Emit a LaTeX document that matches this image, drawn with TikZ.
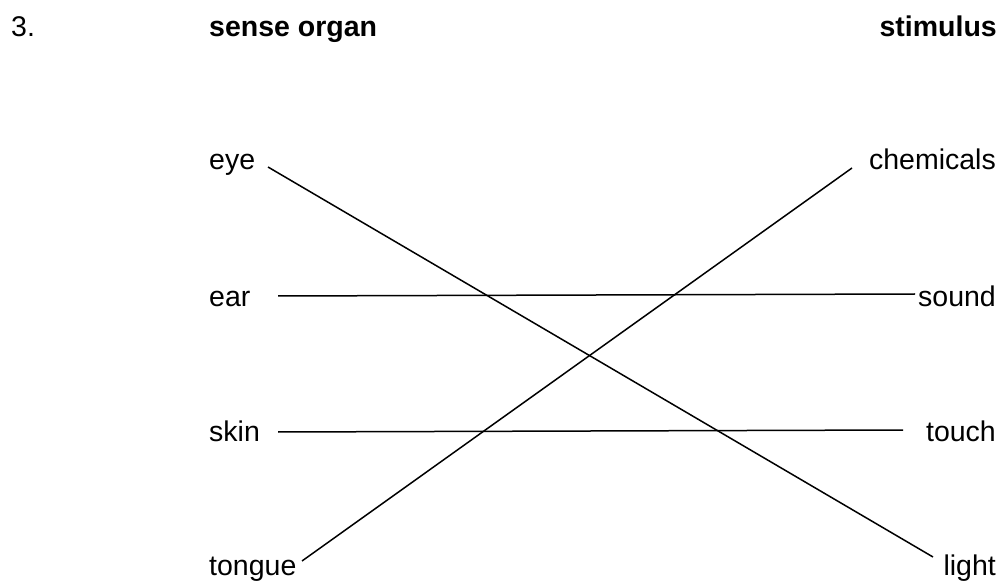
\documentclass[tikz,border=0pt]{standalone}
\usepackage{fontspec}
\setmainfont{Liberation Sans}
\usepackage{tikz}

\begin{document}
\begin{tikzpicture}[
    x=1pt, y=-1pt,
    lbl/.style={inner sep=0pt, font=\fontsize{28.5}{34}\selectfont},
    head/.style={lbl, font=\fontsize{28.5}{34}\selectfont\bfseries},
    link/.style={line width=1.5pt, black}
]
\useasboundingbox (0,0) rectangle (1002,585);
% heading
\node[lbl, anchor=base west] (num) at (11,37) {3.};
\node[head, anchor=base west] (organ) at (209,37) {sense organ};
\node[head, anchor=base east] (stim) at (997,37) {stimulus};
% left column
\node[lbl, anchor=base west] (eye) at (209,170) {eye};
\node[lbl, anchor=base west] (ear) at (209,307) {ear};
\node[lbl, anchor=base west] (skin) at (209,441) {skin};
\node[lbl, anchor=base west] (tongue) at (209,575) {tongue};
% right column
\node[lbl, anchor=base east] (chem) at (996,170) {chemicals};
\node[lbl, anchor=base east] (sound) at (996,307) {sound};
\node[lbl, anchor=base east] (touch) at (996,441) {touch};
\node[lbl, anchor=base east] (light) at (996,575) {light};
% line ends
\coordinate (eye-r) at (268,167);
\coordinate (ear-r) at (278,296);
\coordinate (skin-r) at (278,432);
\coordinate (tongue-r) at (302,561);
\coordinate (chem-l) at (852,168);
\coordinate (sound-l) at (915,294);
\coordinate (touch-l) at (903,430);
\coordinate (light-l) at (933,557);
\draw[link] (eye-r) -- (light-l);
\draw[link] (ear-r) -- (sound-l);
\draw[link] (skin-r) -- (touch-l);
\draw[link] (tongue-r) -- (chem-l);
\end{tikzpicture}
\end{document}
